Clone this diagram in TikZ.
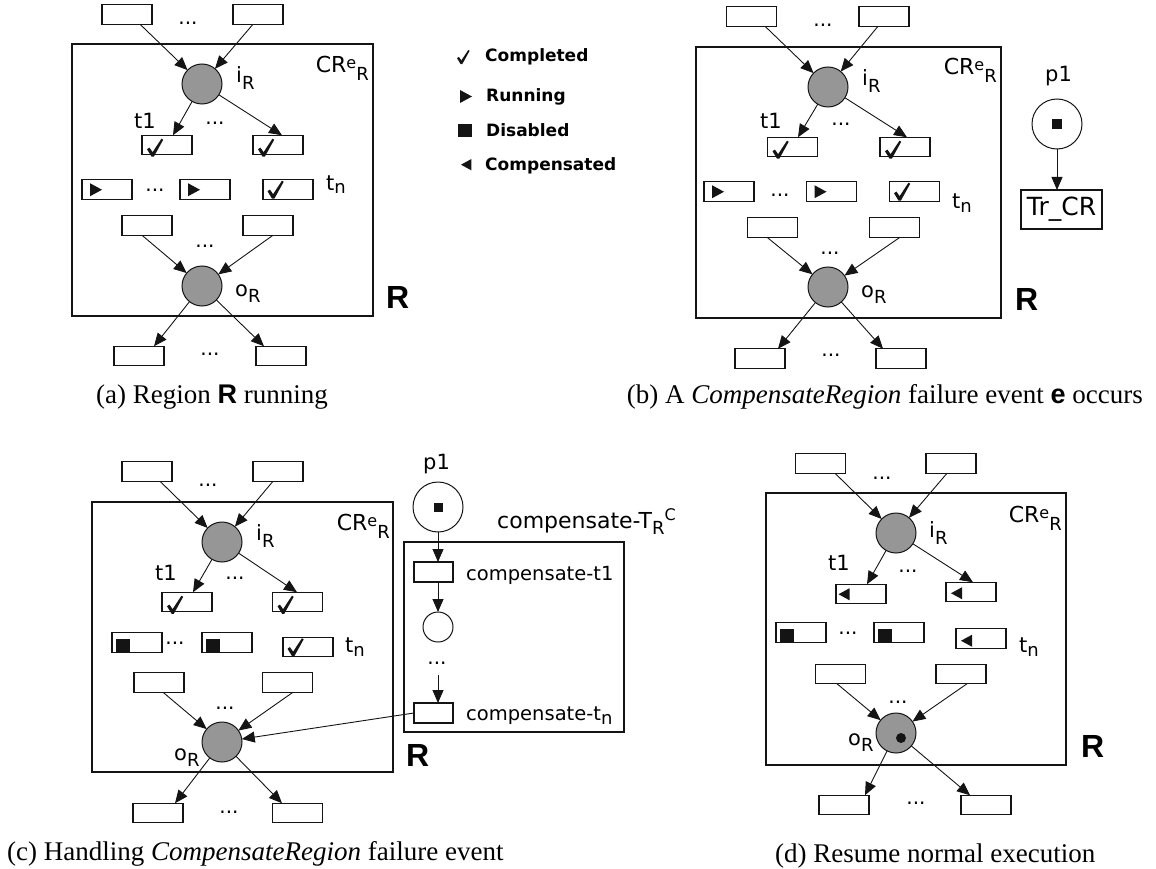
\documentclass[tikz,border=0pt]{standalone}
\usepackage{fontspec}
\setmainfont{Liberation Serif}
\newfontfamily\lblfont{DejaVu Sans}
\newfontfamily\arialfont{Liberation Sans}
\usetikzlibrary{arrows.meta}

\definecolor{placegray}{RGB}{150,150,150}
\definecolor{inkc}{RGB}{20,20,20}

% subscripts and superscripts of the Petri-net labels
\newcommand\lsub[2][6]{\raisebox{-#1pt}{\fontsize{18}{18}\selectfont #2}}
\newcommand\lsup[2][4]{\raisebox{#1pt}{\fontsize{16}{16}\selectfont #2}}
\newcommand\crlabel{{\fontsize{22}{26}\selectfont CR}\lsup{e}\lsub[8]{R}}

\tikzset{
  trans/.style={draw=inkc, line width=1.2pt, fill=white, minimum width=50pt,
    minimum height=19.5pt, inner sep=0pt, outer sep=0pt},
  place/.style={circle, draw=inkc, line width=1pt, fill=placegray,
    minimum size=40pt, inner sep=0pt, outer sep=0pt},
  wplace/.style={circle, draw=inkc, line width=1pt, fill=white,
    inner sep=0pt, outer sep=0pt},
  region/.style={draw=inkc, line width=1.2pt},
  arr/.style={draw=inkc, line width=0.9pt, -{Triangle[length=13pt,width=11pt]}},
  lbl/.style={inner sep=0pt, anchor=base west, font=\lblfont\fontsize{21}{25}\selectfont},
  lble/.style={lbl, anchor=base east},
  dotsn/.style={inner sep=0pt, font=\lblfont\fontsize{20}{24}\selectfont},
  bigR/.style={inner sep=0pt, anchor=base west, font=\arialfont\bfseries\fontsize{32}{38}\selectfont},
  capn/.style={inner sep=0pt, anchor=base west, font=\fontsize{27}{32}\selectfont},
  legn/.style={inner sep=0pt, anchor=base west, font=\lblfont\bfseries\fontsize{17}{20}\selectfont},
  token/.style={fill=inkc, inner sep=0pt, minimum size=9.5pt, outer sep=0pt},
  % state marks drawn inside transitions (y axis points down)
  chk/.pic={\fill[inkc] (0,10.5) -- (2.4,8.8) -- (5.6,13.4) -- (14.4,0) -- (16.2,1)
    -- (6.8,18) -- (4.6,18) -- cycle;},
  runtri/.pic={\fill[inkc] (0,0) -- (12,6.5) -- (0,13) -- cycle;},
  cmptri/.pic={\fill[inkc] (0,6) -- (11,0) -- (11,12) -- cycle;},
  dissq/.pic={\fill[inkc] (0,0) rectangle (14,13);}
}

\begin{document}
\begin{tikzpicture}[x=1pt,y=-1pt]
\useasboundingbox (0,0) rectangle (1156,869);

% ---------------- legend ----------------
\pic[scale=0.78] at (457,50) {chk};
\node[legn] (lgc) at (485,62) {Completed};
\pic at (460,90) {runtri};
\node[legn] (lgr) at (486,102) {Running};
\pic at (458,124) {dissq};
\node[legn] (lgd) at (486,137) {Disabled};
\pic[scale=0.95] at (461,159) {cmptri};
\node[legn] (lgm) at (485,171) {Compensated};

% ---------------- (a) region R running ----------------
\draw[region] (72,44) rectangle (373,316);
\node[trans] (ta1) at (127,14.5) {};
\node[trans] (ta2) at (258,14.5) {};
\node[dotsn] (da0) at (188,23) {...};
\node[place] (iRa) at (202,84) {};
\node[lbl] (liRa) at (236,83) {i\lsub[7]{R}};
\node[lble] (lcra) at (369,73) {\crlabel};
\node[lbl] (lt1a) at (134,129) {t1};
\node[dotsn] (da1) at (215,123) {...};
\node[trans] (r1a1) at (167,145) {};
\node[trans] (r1a2) at (278,145) {};
\node[trans] (r2a1) at (107,189.5) {};
\node[dotsn] (da2) at (155,190) {...};
\node[trans] (r2a2) at (205,189.5) {};
\node[trans] (r2a3) at (288,189.5) {};
\node[lbl] (ltna) at (326,190) {t\lsub[4]{n}};
\node[trans] (r3a1) at (147,225.5) {};
\node[trans] (r3a2) at (268,225.5) {};
\node[dotsn] (da3) at (205,246) {...};
\node[place] (oRa) at (202,286) {};
\node[lbl] (loRa) at (235,296) {o\lsub{R}};
\node[bigR] (Ra) at (386,308) {R};
\node[trans] (ba1) at (139,356) {};
\node[trans] (ba2) at (281,356) {};
\node[dotsn] (da4) at (210,354) {...};
\draw[arr] ([xshift=13pt]ta1.south) -- (iRa);
\draw[arr] ([xshift=-5pt]ta2.south) -- (iRa);
\draw[arr] (iRa) -- ([xshift=6pt]r1a1.north);
\draw[arr] (iRa) -- ([xshift=4pt]r1a2.north);
\draw[arr] ([xshift=-5pt]r3a1.south) -- (oRa);
\draw[arr] ([xshift=5pt]r3a2.south) -- (oRa);
\draw[arr] (oRa) -- ([xshift=15pt]ba1.north);
\draw[arr] (oRa) -- ([xshift=-17pt]ba2.north);
\pic at ([shift={(5,3.5)}]r1a1.north west) {chk};
\pic at ([shift={(5,3.5)}]r1a2.north west) {chk};
\pic at ([shift={(8,3.5)}]r2a1.north west) {runtri};
\pic at ([shift={(8,3.5)}]r2a2.north west) {runtri};
\pic at ([shift={(4.5,1)}]r2a3.north west) {chk};
\node[capn] (capa) at (96,403) {(a) Region {\arialfont\bfseries R} running};

% ---------------- (b) failure event e occurs ----------------
\draw[region] (696,47) rectangle (1001,318);
\node[trans] (tb1) at (751.5,16.5) {};
\node[trans] (tb2) at (884,16.5) {};
\node[dotsn] (db0) at (823,25) {...};
\node[place] (iRb) at (828,87) {};
\node[lbl] (liRb) at (862,86) {i\lsub[7]{R}};
\node[lble] (lcrb) at (997,75) {\crlabel};
\node[lbl] (lt1b) at (760,129) {t1};
\node[dotsn] (db1) at (841,124) {...};
\node[trans] (r1b1) at (792.5,147) {};
\node[trans] (r1b2) at (905,147) {};
\node[trans] (r2b1) at (729,191.5) {};
\node[dotsn] (db2) at (780,195) {...};
\node[trans] (r2b2) at (831.5,191.5) {};
\node[trans] (r2b3) at (914.5,191.5) {};
\node[lbl] (ltnb) at (952,208) {t\lsub[4]{n}};
\node[trans] (r3b1) at (772.5,227.5) {};
\node[trans] (r3b2) at (894.5,227.5) {};
\node[dotsn] (db3) at (830,253) {...};
\node[place] (oRb) at (828,287) {};
\node[lbl] (loRb) at (861,297) {o\lsub{R}};
\node[bigR] (Rb) at (1015,310) {R};
\node[trans] (bb1) at (760,358.5) {};
\node[trans] (bb2) at (901,358.5) {};
\node[dotsn] (db4) at (831,355) {...};
\node[lbl] (lp1b) at (1045,82) {p1};
\node[wplace, minimum size=50pt] (p1b) at (1057,124) {};
\node[token] (tokb) at (p1b) {};
\node[trans, minimum width=81pt, minimum height=39pt,
      font=\lblfont\fontsize{25}{29}\selectfont] (trcr) at (1061.5,209.5) {Tr\_CR};
\draw[arr] ([xshift=13.5pt]tb1.south) -- (iRb);
\draw[arr] ([xshift=-6pt]tb2.south) -- (iRb);
\draw[arr] (iRb) -- ([xshift=5.5pt]r1b1.north);
\draw[arr] (iRb) -- ([xshift=2pt]r1b2.north);
\draw[arr] ([xshift=-5.5pt]r3b1.south) -- (oRb);
\draw[arr] ([xshift=5.5pt]r3b2.south) -- (oRb);
\draw[arr] (oRb) -- ([xshift=18pt]bb1.north);
\draw[arr] (oRb) -- ([xshift=-18pt]bb2.north);
\draw[arr] (p1b) -- ([xshift=-4.5pt]trcr.north);
\pic at ([shift={(5,3.5)}]r1b1.north west) {chk};
\pic at ([shift={(5,3.5)}]r1b2.north west) {chk};
\pic at ([shift={(8,3.5)}]r2b1.north west) {runtri};
\pic at ([shift={(8,3.5)}]r2b2.north west) {runtri};
\pic at ([shift={(4.5,1)}]r2b3.north west) {chk};
\node[capn, anchor=base east] (capb) at (1143,403)
  {(b) A \textit{CompensateRegion} failure event {\arialfont\bfseries e} occurs};

% ---------------- (c) handling the failure event ----------------
\draw[region] (92,502) rectangle (393,772);
\draw[region] (404,542) rectangle (624,732);
\node[trans] (tc1) at (147,471.5) {};
\node[trans] (tc2) at (278,471.5) {};
\node[dotsn] (dc0) at (208,485) {...};
\node[place] (iRc) at (222,542) {};
\node[lbl] (liRc) at (256,540) {i\lsub[7]{R}};
\node[lble] (lcrc) at (390,530) {\crlabel};
\node[lbl] (lt1c) at (155,580) {t1};
\node[dotsn] (dc1) at (235,578) {...};
\node[trans] (r1c1) at (187,602) {};
\node[trans] (r1c2) at (297.5,602) {};
\node[trans] (r2c1) at (137,642.5) {};
\node[dotsn] (dc2) at (175,643) {...};
\node[trans] (r2c2) at (227,642.5) {};
\node[trans] (r2c3) at (308,647) {};
\node[lbl] (ltnc) at (345,652) {t\lsub[4]{n}};
\node[trans] (r3c1) at (159,682.5) {};
\node[trans] (r3c2) at (287.5,682.5) {};
\node[dotsn] (dc3) at (225,708) {...};
\node[place] (oRc) at (222,742) {};
\node[lbl] (loRc) at (174,760) {o\lsub{R}};
\node[bigR] (Rc) at (406,766) {R};
\node[trans] (bc1) at (158,813) {};
\node[trans] (bc2) at (297.5,813) {};
\node[dotsn] (dc4) at (229,812) {...};
\node[lbl] (lp1c) at (423,469) {p1};
\node[wplace, minimum size=50pt] (p1c) at (438,507) {};
\node[token, minimum size=9pt] (tokc) at (p1c) {};
\node[lbl, font=\lblfont\fontsize{22}{26}\selectfont] (lcomp) at (497,528)
  {compensate-T\lsub[6]{R}\raisebox{8pt}{\fontsize{16}{16}\selectfont C}};
\node[trans, minimum width=39pt, minimum height=20pt] (ct1) at (433.5,572) {};
\node[lbl, font=\lblfont\fontsize{19.5}{24}\selectfont] (lct1) at (466,580) {compensate-t1};
\node[wplace, minimum size=30pt] (pc) at (438,627) {};
\node[dotsn] (dc5) at (437,663) {...};
\coordinate (cdots) at (438,675);
\node[trans, minimum width=39pt, minimum height=20pt] (ctn) at (433.5,713) {};
\node[lbl, font=\lblfont\fontsize{19.5}{24}\selectfont] (lctn) at (466,720)
  {compensate-t\lsub[4]{n}};
\draw[arr] ([xshift=13pt]tc1.south) -- (iRc);
\draw[arr] ([xshift=-5pt]tc2.south) -- (iRc);
\draw[arr] (iRc) -- ([xshift=6pt]r1c1.north);
\draw[arr] (iRc) -- ([xshift=-0.5pt]r1c2.north);
\draw[arr] ([xshift=4pt]r3c1.south) -- (oRc);
\draw[arr] ([xshift=5.5pt]r3c2.south) -- (oRc);
\draw[arr] (oRc) -- ([xshift=17pt]bc1.north);
\draw[arr] (oRc) -- ([xshift=-15.5pt]bc2.north);
\draw[arr] (p1c) -- ([xshift=4.5pt]ct1.north);
\draw[arr] ([xshift=4.5pt]ct1.south) -- (pc);
\draw[arr] (cdots) -- ([xshift=4.5pt]ctn.north);
\draw[arr] (ctn.west) -- (oRc);
\pic at ([shift={(5,3.5)}]r1c1.north west) {chk};
\pic at ([shift={(5,3.5)}]r1c2.north west) {chk};
\pic at ([shift={(3.7,-13)}]r2c1.south west) {dissq};
\pic at ([shift={(3.7,-13)}]r2c2.south west) {dissq};
\pic at ([shift={(4.5,1)}]r2c3.north west) {chk};
\node[capn] (capc) at (7,860) {(c) Handling \textit{CompensateRegion} failure event};

% ---------------- (d) resume normal execution ----------------
\draw[region] (766,493) rectangle (1066,765);
\node[trans] (td1) at (820.5,463.5) {};
\node[trans] (td2) at (951,463.5) {};
\node[dotsn] (dd0) at (882,478) {...};
\node[place] (iRd) at (896,533) {};
\node[lbl] (liRd) at (929,537) {i\lsub[7]{R}};
\node[lble] (lcrd) at (1062,522) {\crlabel};
\node[lbl] (lt1d) at (828,570) {t1};
\node[dotsn] (dd1) at (908,571) {...};
\node[trans] (r1d1) at (861,594) {};
\node[trans] (r1d2) at (971,592) {};
\node[trans] (r2d1) at (801,632.5) {};
\node[dotsn] (dd2) at (848,633) {...};
\node[trans] (r2d2) at (899,632.5) {};
\node[trans] (r2d3) at (981,638.5) {};
\node[lbl] (ltnd) at (1019,652) {t\lsub[4]{n}};
\node[trans] (r3d1) at (840.5,674) {};
\node[trans] (r3d2) at (961,674) {};
\node[dotsn] (dd3) at (898,702) {...};
\node[place] (oRd) at (896,733) {};
\node[circle, fill=inkc, minimum size=10pt, inner sep=0pt] (tokd) at ([shift={(5,5)}]oRd.center) {};
\node[lbl] (loRd) at (848,745) {o\lsub{R}};
\node[bigR] (Rd) at (1081,757) {R};
\node[trans] (bd1) at (844,805) {};
\node[trans] (bd2) at (986,805) {};
\node[dotsn] (dd4) at (916,803) {...};
\draw[arr] ([xshift=14.5pt]td1.south) -- (iRd);
\draw[arr] ([xshift=-4pt]td2.south) -- (iRd);
\draw[arr] (iRd) -- ([xshift=6pt]r1d1.north);
\draw[arr] (iRd) -- ([xshift=2pt]r1d2.north);
\draw[arr] ([xshift=-3.5pt]r3d1.south) -- (oRd);
\draw[arr] ([xshift=6pt]r3d2.south) -- (oRd);
\draw[arr] (oRd) -- ([xshift=21pt]bd1.north);
\draw[arr] (oRd) -- ([xshift=-16pt]bd2.north);
\pic at ([shift={(2.5,4)}]r1d1.north west) {cmptri};
\pic at ([shift={(5,5)}]r1d2.north west) {cmptri};
\pic at ([shift={(3.7,-13)}]r2d1.south west) {dissq};
\pic at ([shift={(3.7,-13)}]r2d2.south west) {dissq};
\pic at ([shift={(5,6)}]r2d3.north west) {cmptri};
\node[capn] (capd) at (775,862) {(d) Resume normal execution};
\end{tikzpicture}
\end{document}
